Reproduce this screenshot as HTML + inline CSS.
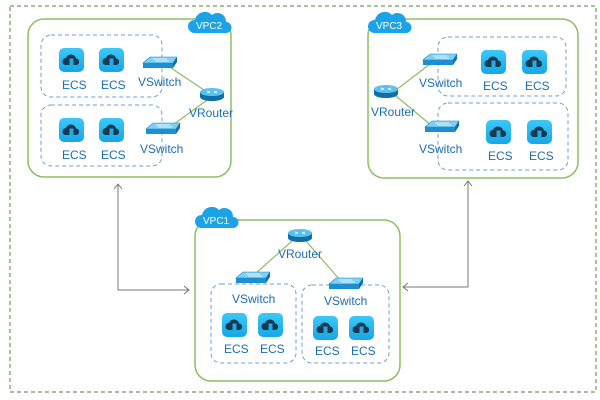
<!DOCTYPE html>
<html><head><meta charset="utf-8"><style>
html,body{margin:0;padding:0;background:#fff;}
svg{display:block;}
text{font-family:"Liberation Sans",sans-serif;fill:#1b6db3;font-size:12px;}
</style></head><body>
<svg width="600" height="400" viewBox="0 0 600 400" xmlns="http://www.w3.org/2000/svg">
<defs>
<linearGradient id="eg" x1="0" y1="0" x2="0" y2="1"><stop offset="0" stop-color="#3cc8f7"/><stop offset="1" stop-color="#16a7e8"/></linearGradient>
<g id="ecs">
 <rect x="0" y="0" width="25" height="24" rx="5" fill="url(#eg)"/>
 <path d="M6 17 a3.6 3.6 0 0 1 1-7 a5.2 5.2 0 0 1 10 0.5 a3.3 3.3 0 0 1 0.5 6.5 z" fill="#123a52"/>
 <rect x="10.5" y="10.5" width="4" height="6.5" fill="#2aa9e0"/>
</g>
<g id="sw">
 <path d="M0 6 L7 0 L34 0 L30 6 Z" fill="#7fd0f5" stroke="#1b8bc8" stroke-width="0.6"/>
 <rect x="0" y="6" width="30" height="5" fill="#1c8fd0"/>
 <path d="M30 6 L34 0 L34 5 L30 11 Z" fill="#0f6fa8"/>
 <path d="M10 2 L24 2 M12 4 L26 4" stroke="#fff" stroke-width="0.8"/>
</g>
<g id="rt">
 <ellipse cx="12" cy="9" rx="12" ry="4" fill="#0f6fa8"/>
 <rect x="0" y="4" width="24" height="5" fill="#0f6fa8"/>
 <ellipse cx="12" cy="4" rx="12" ry="4" fill="#5cc1ef"/>
 <path d="M7 3 L10 4 M17 3 L14 4 M7 5 L10 4 M17 5 L14 4" stroke="#fff" stroke-width="0.9"/>
</g>
<g id="cloud">
 <path d="M6 24 a6.5 6.5 0 0 1 1-13 a10 10 0 0 1 17-5 a8.5 8.5 0 0 1 14 7 a5.5 5.5 0 0 1 0 11 z" fill="#1aa3e6"/>
</g>
</defs>

<rect x="10" y="6" width="586" height="386" fill="none" stroke="#6f9d5b" stroke-width="1.2" stroke-dasharray="4,3"/>

<!-- VPC2 -->
<rect x="28" y="19" width="203" height="158" rx="16" fill="none" stroke="#8cc063" stroke-width="1.5"/>
<rect x="41" y="35" width="121" height="62" rx="10" fill="none" stroke="#6d9fd6" stroke-dasharray="4,3"/>
<rect x="41" y="105" width="121" height="61" rx="10" fill="none" stroke="#6d9fd6" stroke-dasharray="4,3"/>
<use href="#cloud" x="188" y="9"/><text x="196" y="29" style="fill:#fff;font-size:10px">VPC2</text>
<line x1="168" y1="66" x2="210" y2="94" stroke="#8cc063" stroke-width="1.2"/>
<line x1="170" y1="127" x2="210" y2="98" stroke="#8cc063" stroke-width="1.2"/>
<use href="#ecs" x="59" y="48"/><use href="#ecs" x="99" y="48"/>
<text x="62" y="89">ECS</text><text x="101" y="89">ECS</text>
<use href="#ecs" x="59" y="118"/><use href="#ecs" x="99" y="118"/>
<text x="62" y="159">ECS</text><text x="101" y="159">ECS</text>
<use href="#sw" x="143" y="57"/><text x="138" y="86">VSwitch</text>
<use href="#rt" x="200" y="88"/><text x="189" y="117">VRouter</text>
<use href="#sw" x="146" y="123"/><text x="140" y="153">VSwitch</text>

<!-- VPC3 -->
<rect x="368" y="19" width="210" height="159" rx="16" fill="none" stroke="#8cc063" stroke-width="1.5"/>
<rect x="438" y="37" width="128" height="59" rx="10" fill="none" stroke="#6d9fd6" stroke-dasharray="4,3"/>
<rect x="438" y="103" width="130" height="67" rx="10" fill="none" stroke="#6d9fd6" stroke-dasharray="4,3"/>
<use href="#cloud" x="368" y="9"/><text x="376" y="29" style="fill:#fff;font-size:10px">VPC3</text>
<line x1="396" y1="90" x2="430" y2="64" stroke="#8cc063" stroke-width="1.2"/>
<line x1="396" y1="96" x2="432" y2="126" stroke="#8cc063" stroke-width="1.2"/>
<use href="#ecs" x="481" y="50"/><use href="#ecs" x="522" y="50"/>
<text x="483" y="90">ECS</text><text x="525" y="90">ECS</text>
<use href="#ecs" x="486" y="120"/><use href="#ecs" x="527" y="120"/>
<text x="488" y="160">ECS</text><text x="529" y="160">ECS</text>
<use href="#sw" x="423" y="54"/><text x="419" y="87">VSwitch</text>
<use href="#rt" x="374" y="85"/><text x="371" y="116">VRouter</text>
<use href="#sw" x="425" y="121"/><text x="419" y="153">VSwitch</text>

<!-- VPC1 -->
<rect x="195" y="220" width="205" height="161" rx="16" fill="none" stroke="#8cc063" stroke-width="1.5"/>
<rect x="211" y="284" width="85" height="79" rx="10" fill="none" stroke="#6d9fd6" stroke-dasharray="4,3"/>
<rect x="302" y="285" width="87" height="78" rx="10" fill="none" stroke="#6d9fd6" stroke-dasharray="4,3"/>
<use href="#cloud" x="195" y="204"/><text x="203" y="224" style="fill:#fff;font-size:10px">VPC1</text>
<line x1="292" y1="241" x2="255" y2="274" stroke="#8cc063" stroke-width="1.2"/>
<line x1="306" y1="241" x2="340" y2="280" stroke="#8cc063" stroke-width="1.2"/>
<use href="#rt" x="288" y="229"/><text x="278" y="258">VRouter</text>
<use href="#sw" x="236" y="272"/><text x="232" y="303">VSwitch</text>
<use href="#sw" x="329" y="278"/><text x="324" y="305">VSwitch</text>
<use href="#ecs" x="222" y="313"/><use href="#ecs" x="258" y="313"/>
<text x="224" y="353">ECS</text><text x="260" y="353">ECS</text>
<use href="#ecs" x="313" y="316"/><use href="#ecs" x="349" y="316"/>
<text x="315" y="355">ECS</text><text x="351" y="355">ECS</text>

<!-- connectors -->
<g stroke="#777" stroke-width="1" fill="none">
<path d="M118 184 L118 290 L189 290"/>
<path d="M114 189 L118 184 L122 189"/>
<path d="M184 286 L189 290 L184 294"/>
<path d="M468 181 L468 287 L403 287"/>
<path d="M464 186 L468 181 L472 186"/>
<path d="M408 283 L403 287 L408 291"/>
</g>
</svg>
</body></html>
